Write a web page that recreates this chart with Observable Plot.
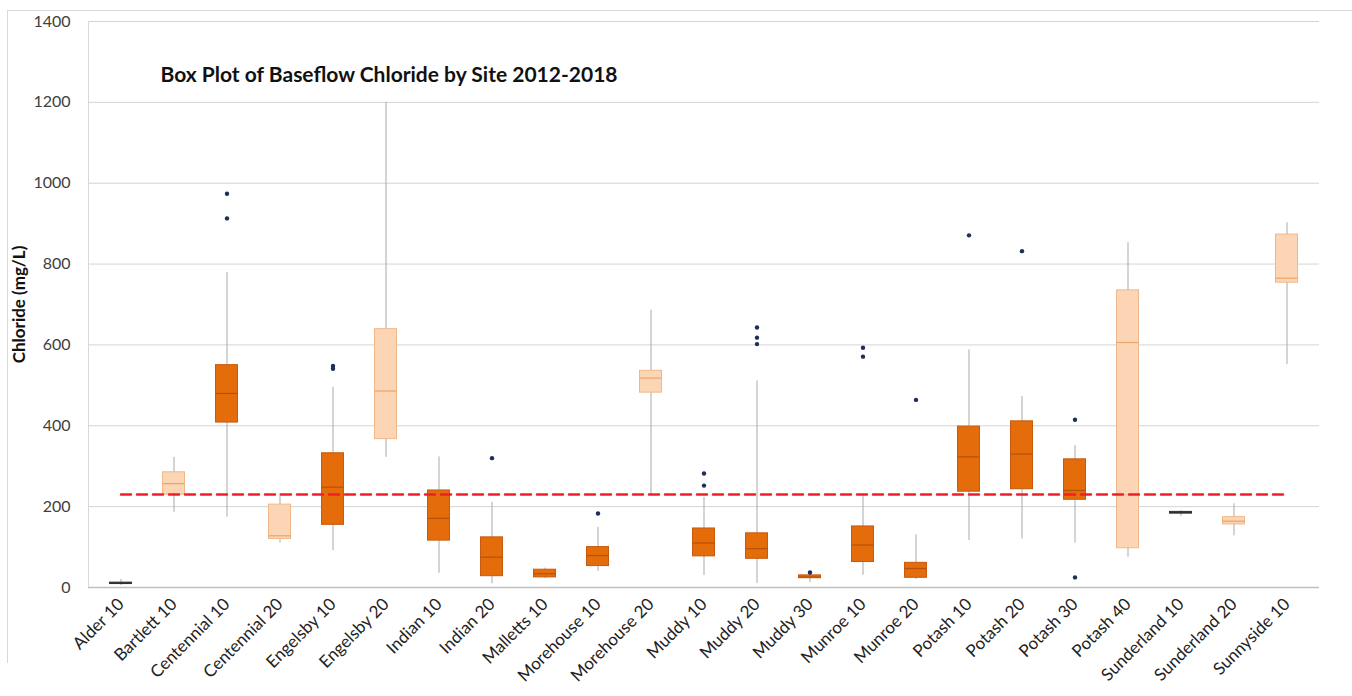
<!DOCTYPE html>
<html>
<head>
<meta charset="utf-8">
<script src="https://cdn.jsdelivr.net/npm/d3@7"></script>
<script src="https://cdn.jsdelivr.net/npm/@observablehq/plot@0.6"></script>
<style>
  html, body { margin: 0; padding: 0; background: #fff; }
  #wrap { position: relative; width: 1352px; height: 696px; overflow: hidden; }
  #border { position: absolute; left: 7px; top: 10px; width: 1400px; height: 652px;
            border-top: 1px solid #d9d9d9; border-left: 1px solid #d9d9d9; pointer-events: none; }
  #yaxisline { position: absolute; left: 88px; top: 21px; width: 1px; height: 566px; background: #d9d9d9; }
  svg { display: block; }
</style>
</head>
<body>
<div id="wrap">
  <div id="chart"></div>
  <div id="border"></div>
  <div id="yaxisline"></div>
</div>
<script>
const sites = ["Alder 10","Bartlett 10","Centennial 10","Centennial 20","Engelsby 10","Engelsby 20","Indian 10","Indian 20","Malletts 10","Morehouse 10","Morehouse 20","Muddy 10","Muddy 20","Muddy 30","Munroe 10","Munroe 20","Potash 10","Potash 20","Potash 30","Potash 40","Sunderland 10","Sunderland 20","Sunnyside 10"];
const whiskerLow  = [5, 186, 174, 110, 91, 322, 35, 9, 22, 40, 227, 30, 10, 12, 30, 20, 116, 120, 110, 75, 176, 128, 552];
const q1          = [9, 230, 408, 120, 155, 367, 116, 28, 25, 53, 482, 77, 71, 23, 63, 24, 237, 243, 217, 97, 183, 156, 754];
const median      = [10, 257, 480, 128, 248, 486, 171, 75, 34, 79, 518, 110, 96, 26, 105, 47, 323, 330, 240, 606, 185, 164, 765];
const q3          = [12, 285, 550, 205, 332, 639, 240, 124, 44, 100, 536, 146, 134, 30, 151, 61, 398, 411, 317, 735, 187, 174, 873];
const whiskerHigh = [20, 322, 779, 232, 495, 1200, 323, 211, 48, 149, 686, 223, 511, 33, 231, 130, 588, 472, 351, 853, 190, 207, 902];
const tone        = ["black","light","dark","light","dark","light","dark","dark","dark","dark","light","dark","dark","dark","dark","dark","dark","dark","dark","light","black","light","light"];
const outlierSite  = ["Centennial 10","Centennial 10","Engelsby 10","Engelsby 10","Indian 20","Morehouse 10","Muddy 10","Muddy 10","Muddy 20","Muddy 20","Muddy 20","Muddy 30","Munroe 10","Munroe 10","Munroe 20","Potash 10","Potash 20","Potash 30","Potash 30"];
const outlierValue = [974, 913, 548, 541, 320, 183, 282, 252, 643, 618, 602, 37, 593, 571, 464, 871, 832, 415, 25];
const yTicks = [0, 200, 400, 600, 800, 1000, 1200, 1400];
const standard = 230;
const title = "Box Plot of Baseflow Chloride by Site 2012-2018";
const yLabel = "Chloride (mg/L)";

const fills   = {dark: "#e46c0a", light: "#fcd5b4", black: "#404040"};
const strokes = {dark: "#c65a0e", light: "#f0b88a", black: "#303030"};
const medStroke = {dark: "#b5520a", light: "#e9a36c", black: "#303030"};

const boxes = sites.map((s, i) => ({site: s, lo: whiskerLow[i], q1: q1[i], med: median[i], q3: q3[i], hi: whiskerHigh[i], tone: tone[i]}));
const outliers = outlierSite.map((s, i) => ({site: s, value: outlierValue[i]}));
const standardLine = sites.map(s => ({site: s, value: standard}));

const inset = 15.5;
const chart = Plot.plot({
  width: 1352,
  height: 696,
  marginLeft: 88,
  marginRight: 33,
  marginTop: 21,
  marginBottom: 109,
  style: {fontFamily: "Lato, 'Open Sans', sans-serif", fontSize: "16px", color: "#404040", background: "transparent"},
  x: {type: "band", domain: sites, padding: 0, label: null},
  y: {domain: [0, 1400], label: null},
  marks: [
    Plot.gridY(yTicks.filter(d => d > 0), {stroke: "#d4d4d4", strokeOpacity: 1}),
    Plot.axisY(yTicks, {tickSize: 0, tickPadding: 18, fontSize: 16, tickFormat: d => String(d), label: null, fill: "#404040"}),
    Plot.axisX({tickSize: 0, tickRotate: -45, tickPadding: 14, fontSize: 17, label: null, fill: "#222"}),
    Plot.ruleY([0], {stroke: "#bfbfbf", strokeWidth: 1.5}),
    Plot.ruleX(boxes, {x: "site", y1: "lo", y2: "hi", stroke: "#a9a9a9", strokeWidth: 1}),
    Plot.barY(boxes, {x: "site", y1: "q1", y2: "q3", fill: d => fills[d.tone], stroke: d => strokes[d.tone], strokeWidth: 1, insetLeft: inset, insetRight: inset}),
    Plot.tickY(boxes, {x: "site", y: "med", stroke: d => medStroke[d.tone], strokeWidth: 1.2, insetLeft: inset, insetRight: inset}),
    Plot.dot(outliers, {x: "site", y: "value", r: 2.2, fill: "#1f2d5a", stroke: "none"}),
    Plot.line(standardLine, {x: "site", y: "value", stroke: "#f01e28", strokeWidth: 2.5, strokeDasharray: "10,6"}),
    Plot.text([title], {text: d => d, frameAnchor: "top-left", dx: 72, dy: 46, textAnchor: "start", fontWeight: "bold", fontSize: 21, fill: "#111"}),
    Plot.text([yLabel], {text: d => d, frameAnchor: "left", dx: -69, dy: 0, rotate: -90, textAnchor: "middle", fontWeight: "bold", fontSize: 17, fill: "#111"})
  ]
});
document.getElementById("chart").appendChild(chart);
</script>
</body>
</html>
